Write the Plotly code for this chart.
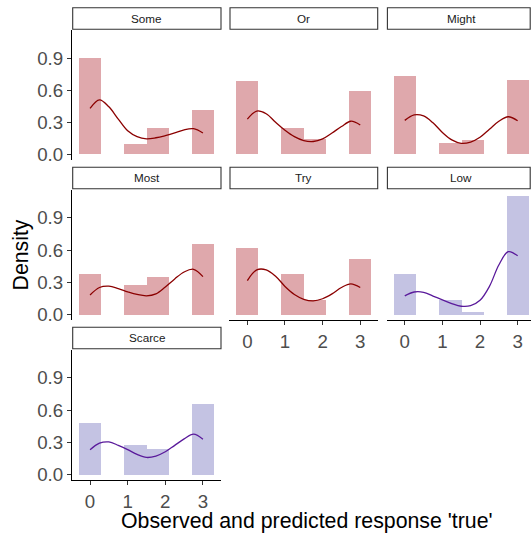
import plotly.graph_objects as go

W, H = 531, 533

# ---- data ----
panels = ["Some", "Or", "Might", "Most", "Try", "Low", "Scarce"]
groups = ["red", "red", "red", "red", "red", "blue", "blue"]
bin_centers = [0.0, 0.6, 1.2, 1.8, 2.4, 3.0]
hist_density = {
    "Some":   [0.90, 0.00, 0.10, 0.25, 0.00, 0.415],
    "Or":     [0.69, 0.00, 0.245, 0.14, 0.00, 0.59],
    "Might":  [0.73, 0.00, 0.105, 0.135, 0.00, 0.695],
    "Most":   [0.38, 0.00, 0.275, 0.35, 0.00, 0.66],
    "Try":    [0.625, 0.00, 0.38, 0.14, 0.00, 0.52],
    "Low":    [0.38, 0.00, 0.14, 0.03, 0.00, 1.11],
    "Scarce": [0.485, 0.00, 0.275, 0.245, 0.00, 0.66],
}
dens_x = [0.0, 0.25, 0.5, 0.75, 1.0, 1.25, 1.5, 1.75, 2.0, 2.25, 2.5, 2.75, 3.0]
dens_y = {
    "Some":   [0.43, 0.51, 0.445, 0.33, 0.22, 0.165, 0.145, 0.155, 0.175, 0.20, 0.23, 0.24, 0.20],
    "Or":     [0.33, 0.405, 0.38, 0.30, 0.225, 0.165, 0.128, 0.12, 0.145, 0.20, 0.26, 0.31, 0.275],
    "Might":  [0.318, 0.37, 0.36, 0.295, 0.205, 0.135, 0.103, 0.115, 0.16, 0.235, 0.31, 0.352, 0.315],
    "Most":   [0.18, 0.25, 0.262, 0.24, 0.21, 0.185, 0.172, 0.19, 0.255, 0.33, 0.395, 0.42, 0.352],
    "Try":    [0.315, 0.415, 0.415, 0.355, 0.26, 0.185, 0.14, 0.125, 0.145, 0.19, 0.25, 0.284, 0.25],
    "Low":    [0.172, 0.208, 0.205, 0.17, 0.135, 0.10, 0.075, 0.08, 0.13, 0.26, 0.46, 0.585, 0.546],
    "Scarce": [0.228, 0.29, 0.302, 0.27, 0.23, 0.185, 0.157, 0.17, 0.21, 0.27, 0.33, 0.375, 0.328],
}
x_ticks = [0, 1, 2, 3]
y_ticks = [0.0, 0.3, 0.6, 0.9]
y_tick_labels = ["0.0", "0.3", "0.6", "0.9"]

# ---- styling ----
fill = {"red": "rgb(223,168,172)", "blue": "rgb(196,195,227)"}
line_col = {"red": "#8B0000", "blue": "#5A1A9B"}

col_px = [(72.0, 221.0), (229.3, 377.7), (386.7, 531.0)]
row_px = [(30.0, 160.2), (189.5, 320.2), (349.5, 480.2)]
strip_h = 21.5
x_lo, x_hi = -0.48, 3.48
unit_w = (221.0 - 72.0) / (x_hi - x_lo)
y_range = [-0.0555, 1.1655]

def px_x(v):
    return v / W

def px_y(v):
    return 1 - v / H

font_fam = "Liberation Sans, Arial, sans-serif"
fig = go.Figure()
layout = {}
shapes = []
annotations = []

for i, name in enumerate(panels):
    r, c = divmod(i, 3)
    k = i + 1
    xa = "x" if k == 1 else f"x{k}"
    ya = "y" if k == 1 else f"y{k}"
    g = groups[i]
    fig.add_trace(go.Bar(
        x=bin_centers, y=hist_density[name], width=0.6,
        marker=dict(color=fill[g], line=dict(width=0)),
        xaxis=xa, yaxis=ya, showlegend=False, hoverinfo="skip"))
    fig.add_trace(go.Scatter(
        x=dens_x, y=dens_y[name], mode="lines",
        line=dict(color=line_col[g], width=1.3, shape="spline", smoothing=1.0),
        xaxis=xa, yaxis=ya, showlegend=False, hoverinfo="skip"))

    x0p, x1p = col_px[c]
    y0p, y1p = row_px[r]
    xr = [x_lo, x_lo + (x1p - x0p) / unit_w]
    show_x = name in ("Try", "Low", "Scarce")
    show_y = c == 0
    layout[f"xaxis{k if k > 1 else ''}"] = dict(
        domain=[px_x(x0p), px_x(x1p)], range=xr, anchor=ya, automargin=False,
        showgrid=False, zeroline=False, fixedrange=True,
        showline=show_x, linecolor="#000000", linewidth=1.1,
        ticks="outside" if show_x else "", ticklen=4, tickwidth=1.1, tickcolor="#333333",
        tickvals=x_ticks, showticklabels=show_x,
        tickfont=dict(family=font_fam, size=18.7, color="#4D4D4D"))
    layout[f"yaxis{k if k > 1 else ''}"] = dict(
        domain=[px_y(y1p), px_y(y0p)], range=y_range, anchor=xa, automargin=False,
        showgrid=False, zeroline=False, fixedrange=True,
        showline=show_y, linecolor="#000000", linewidth=1.1,
        ticks="outside" if show_y else "", ticklen=4, tickwidth=1.1, tickcolor="#333333",
        tickvals=y_ticks, ticktext=y_tick_labels, showticklabels=show_y,
        tickfont=dict(family=font_fam, size=18.7, color="#4D4D4D"))

    # strip
    sx0, sx1 = x0p + 0.7, x1p
    sy1 = y0p - 0.8
    sy0 = sy1 - strip_h
    shapes.append(dict(type="rect", xref="paper", yref="paper",
                       x0=px_x(sx0), x1=px_x(min(sx1, 530.2)), y0=px_y(sy1), y1=px_y(sy0),
                       line=dict(color="#333333", width=1.1), fillcolor="white"))
    cx = (sx0 + sx1) / 2 if sx1 < 530 else (sx0 + 535.0) / 2
    annotations.append(dict(text=name, xref="paper", yref="paper",
                            x=px_x(cx), y=px_y((sy0 + sy1) / 2), showarrow=False,
                            xanchor="center", yanchor="middle",
                            font=dict(family=font_fam, size=11.7, color="#1A1A1A")))

annotations.append(dict(text="Density", xref="paper", yref="paper",
                        x=px_x(20.5), y=px_y(255), textangle=-90, showarrow=False,
                        xanchor="center", yanchor="middle",
                        font=dict(family=font_fam, size=21.3, color="#000000")))
annotations.append(dict(text="Observed and predicted response 'true'", xref="paper", yref="paper",
                        x=px_x(306.7), y=px_y(520.5), showarrow=False,
                        xanchor="center", yanchor="middle",
                        font=dict(family=font_fam, size=21.3, color="#000000")))

fig.update_layout(
    template="none",
    width=W, height=H, autosize=False, margin=dict(l=0, r=0, t=0, b=0, pad=0),
    paper_bgcolor="white", plot_bgcolor="white",
    bargap=0, barmode="overlay",
    shapes=shapes, annotations=annotations, **layout)

fig.write_html("out.html",
               config={"displayModeBar": False, "responsive": False},
               post_script="document.body.style.margin='0';document.body.style.overflow='hidden';")
